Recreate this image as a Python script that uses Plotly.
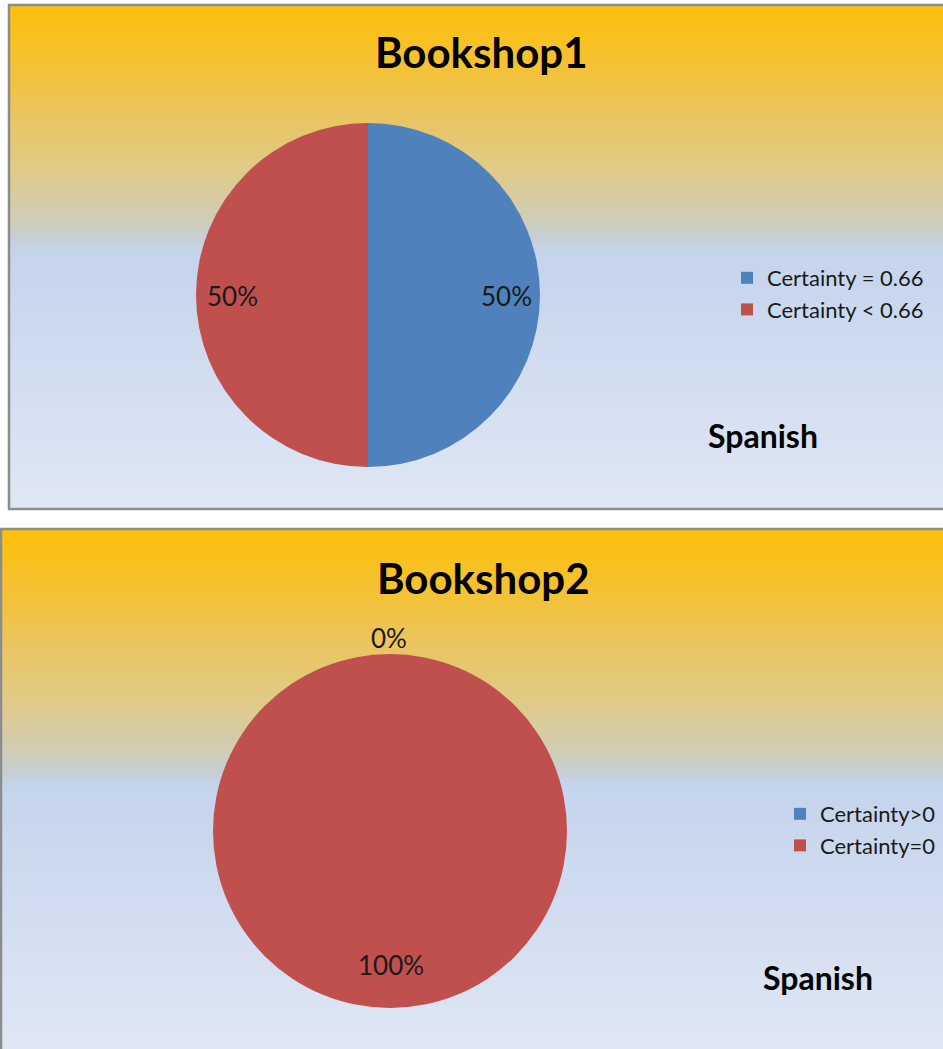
import plotly.graph_objects as go

W, H = 943, 1049

# ---- data ----
titles = ["Bookshop1", "Bookshop2"]
labels1 = ["Certainty = 0.66", "Certainty < 0.66"]
values1 = [50, 50]
labels2 = ["Certainty>0", "Certainty=0"]
values2 = [0, 100]
subtitle = "Spanish"
colors = ["#4F81BD", "#C0504D"]

def px_x(x):
    return x / W

def px_y(y):
    return 1 - y / H

fig = go.Figure()

# ---- gradient backgrounds ----
stops = [
    (0.00, (254, 192, 10)),
    (0.10, (246, 193, 45)),
    (0.22, (234, 197, 95)),
    (0.34, (222, 203, 140)),
    (0.42, (208, 205, 180)),
    (0.46, (200, 207, 210)),
    (0.49, (196, 212, 236)),
    (1.00, (224, 231, 244)),
]

def grad(t):
    for (t0, c0), (t1, c1) in zip(stops[:-1], stops[1:]):
        if t0 <= t <= t1:
            f = (t - t0) / (t1 - t0) if t1 > t0 else 0
            return "rgb(%d,%d,%d)" % tuple(round(a + (b - a) * f) for a, b in zip(c0, c1))
    return "rgb(%d,%d,%d)" % stops[-1][1]

shapes = []
panels = [(9, 5, 950, 509), (1, 529, 950, 1055)]
N = 140
for (x0, y0, x1, y1) in panels:
    h = (y1 - y0) / N
    for i in range(N):
        ya = y0 + i * h
        yb = ya + h + 0.8
        shapes.append(dict(type="rect", xref="paper", yref="paper", layer="below",
                           x0=px_x(x0), x1=px_x(x1), y0=px_y(min(yb, y1)), y1=px_y(ya),
                           fillcolor=grad((i + 0.5) / N), line=dict(width=0)))
    shapes.append(dict(type="rect", xref="paper", yref="paper", layer="below",
                       x0=px_x(x0), x1=px_x(x1), y0=px_y(y1), y1=px_y(y0),
                       fillcolor="rgba(0,0,0,0)", line=dict(color="#8C8C8C", width=2.5)))

# ---- pies ----
def add_pie(labels, values, cx, cy, r, legend):
    fig.add_trace(go.Pie(
        labels=labels, values=values, sort=False, direction="clockwise", rotation=0,
        marker=dict(colors=colors, line=dict(width=0)),
        textinfo="none", hoverinfo="label+percent",
        domain=dict(x=[px_x(cx - r), px_x(cx + r)], y=[px_y(cy + r), px_y(cy - r)]),
        legend=legend, showlegend=True,
    ))

add_pie(labels1, values1, 368, 295, 172, "legend")
add_pie(labels2, values2, 390, 831, 177, "legend2")

def pct(vals, i):
    return f"{round(100 * vals[i] / sum(vals))}%"

def ann(text, x, y, size, bold=False, color="#1a1a1a"):
    return dict(text=f"<b>{text}</b>" if bold else text, x=px_x(x), y=px_y(y),
                xref="paper", yref="paper", xanchor="center", yanchor="middle",
                showarrow=False, font=dict(family="Lato, Open Sans, sans-serif", size=size, color=color))

annotations = [
    ann(titles[0], 482, 52, 42, True, "#000"),
    ann(titles[1], 484, 578, 42, True, "#000"),
    ann(subtitle, 763, 436, 32, True, "#000"),
    ann(subtitle, 818, 977, 32, True, "#000"),
    ann(pct(values1, 0), 506, 296, 26),
    ann(pct(values1, 1), 232, 296, 26),
    ann(pct(values2, 0), 389, 638, 26),
    ann(pct(values2, 1), 391, 965, 26),
]

leg_font = dict(family="Lato, Open Sans, sans-serif", size=22, color="#1a1a1a")
fig.update_layout(
    width=W, height=H, margin=dict(l=0, r=0, t=0, b=0),
    paper_bgcolor="white", plot_bgcolor="white",
    shapes=shapes, annotations=annotations,
    legend=dict(x=px_x(727), y=px_y(257), xanchor="left", yanchor="top",
                bgcolor="rgba(0,0,0,0)", font=leg_font, itemwidth=30, tracegroupgap=0),
    legend2=dict(x=px_x(780), y=px_y(793), xanchor="left", yanchor="top",
                 bgcolor="rgba(0,0,0,0)", font=leg_font, itemwidth=30, tracegroupgap=0),
)

fig.write_html("out.html", config={"displayModeBar": False},
               post_script="document.body.style.margin='0';document.body.style.overflow='hidden';")
